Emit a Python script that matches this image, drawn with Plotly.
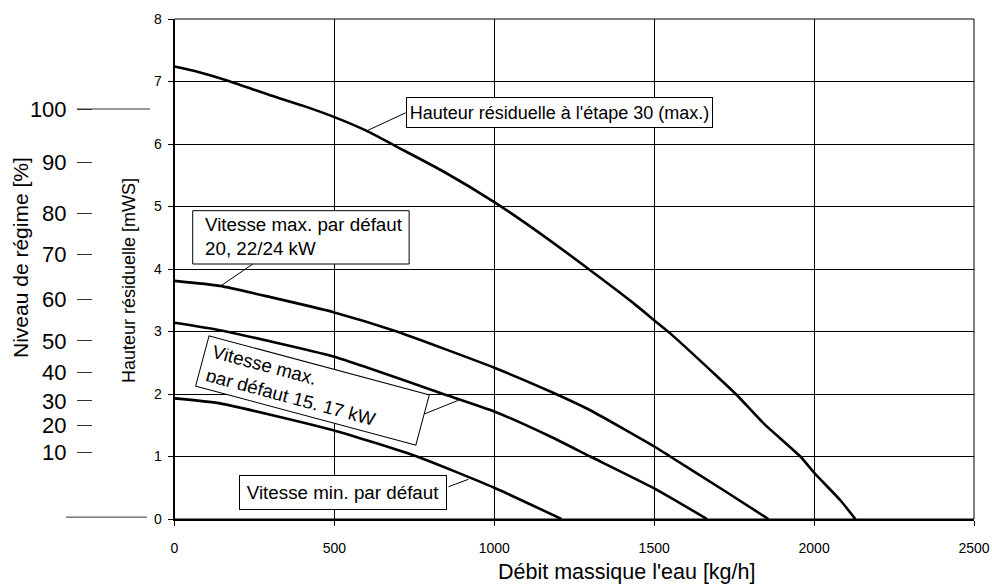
import plotly.graph_objects as go

# ---- data ----
flow_max30 = [0, 69, 174, 299, 403, 500, 601, 716, 841, 1000, 1143, 1300, 1436, 1500, 1550, 1697, 1759, 1842, 1957, 2002, 2082, 2129]
head_max30 = [7.24, 7.16, 7.0, 6.78, 6.61, 6.43, 6.21, 5.9, 5.56, 5.07, 4.57, 3.98, 3.45, 3.18, 2.97, 2.28, 1.98, 1.53, 1.0, 0.73, 0.30, 0.0]

flow_max22 = [0, 142, 300, 497, 695, 1000, 1175, 1300, 1500, 1550, 1717, 1857]
head_max22 = [3.81, 3.73, 3.55, 3.31, 3.0, 2.42, 2.04, 1.74, 1.16, 1.0, 0.46, 0.0]

flow_max15 = [0, 142, 497, 852, 1000, 1175, 1300, 1500, 1665]
head_max15 = [3.14, 3.02, 2.6, 1.98, 1.72, 1.32, 1.0, 0.49, 0.0]

flow_min = [0, 142, 497, 758, 1000, 1210]
head_min = [1.93, 1.85, 1.42, 1.0, 0.5, 0.0]

x_ticks = [0, 500, 1000, 1500, 2000, 2500]
y_ticks = [0, 1, 2, 3, 4, 5, 6, 7, 8]

regime_labels = ["100", "90", "80", "70", "60", "50", "40", "30", "20", "10"]
regime_heights = [6.56, 5.71, 4.89, 4.23, 3.52, 2.85, 2.34, 1.89, 1.50, 1.07]

FONT = "Arial, Liberation Sans, sans-serif"
W, H = 992, 585
ML, MR, MT, MB = 0, 18, 19, 66
PW = W - ML - MR
PH = H - MT - MB
X0PX = 174.5
Y0PX = H - MB  # pixel row of the x axis


def py(px_row):
    """pixel row -> paper y"""
    return (Y0PX - px_row) / PH


fig = go.Figure()
for fx, hy, nm in [(flow_max30, head_max30, "max30"), (flow_max22, head_max22, "max22"),
                   (flow_max15, head_max15, "max15"), (flow_min, head_min, "min")]:
    fig.add_trace(go.Scatter(x=fx, y=hy, mode="lines", name=nm, showlegend=False,
                             line=dict(color="black", width=2.6, shape="spline", smoothing=0.5),
                             hoverinfo="skip"))
# carrier for the secondary (regime) axis
fig.add_trace(go.Scatter(x=[None], y=[None], yaxis="y2", showlegend=False, hoverinfo="skip"))

axis_common = dict(showgrid=True, gridcolor="black", gridwidth=1, showline=True, linecolor="black",
                   linewidth=2, ticks="outside", ticklen=5, tickcolor="black", tickwidth=1,
                   zeroline=False, automargin=False, tickfont=dict(family=FONT, size=14, color="black"))

fig.update_layout(
    width=W, height=H, margin=dict(l=ML, r=MR, t=MT, b=MB),
    paper_bgcolor="white", plot_bgcolor="white",
    font=dict(family=FONT, color="black"),
    xaxis=dict(domain=[X0PX / PW, 1], range=[0, 2500], tickvals=x_ticks, ticklabelstandoff=10, **axis_common),
    yaxis=dict(range=[0, 8], tickvals=y_ticks, ticklabelstandoff=3, **axis_common),
    yaxis2=dict(overlaying="y", anchor="free", position=92 / PW, side="left", range=[0, 8],
                tickvals=regime_heights, ticktext=regime_labels, ticks="outside", ticklen=15,
                tickcolor="#333", tickwidth=1, showgrid=False, showline=False, zeroline=False,
                automargin=False, ticklabelstandoff=6,
                tickfont=dict(family=FONT, size=22, color="black")),
)

shapes = [
    dict(type="rect", xref="x domain", yref="y domain", x0=0, x1=1, y0=0, y1=1,
         line=dict(color="black", width=1)),
    dict(type="line", xref="paper", yref="y", x0=77 / PW, x1=150 / PW, y0=regime_heights[0], y1=regime_heights[0],
         line=dict(color="#333", width=1)),
    dict(type="line", xref="paper", yref="y", x0=66 / PW, x1=147 / PW, y0=0.03, y1=0.03,
         line=dict(color="#333", width=1)),
    # box of the "20, 22/24 kW" label
    dict(type="rect", xref="x", yref="y", x0=57, x1=733.7, y0=4.08, y1=4.933, layer="above",
         fillcolor="white", line=dict(color="black", width=1)),
    # leader lines
    dict(type="line", xref="x", yref="y", x0=723, y0=6.50, x1=601, y1=6.21, line=dict(color="black", width=1)),
    dict(type="line", xref="x", yref="y", x0=245, y0=4.08, x1=142, y1=3.72, line=dict(color="black", width=1)),
    dict(type="line", xref="x", yref="y", x0=781, y0=1.68, x1=888, y1=1.90, line=dict(color="black", width=1)),
    dict(type="line", xref="x", yref="y", x0=857, y0=0.517, x1=919, y1=0.635, line=dict(color="black", width=1)),
]
fig.update_layout(shapes=shapes)

box = dict(bordercolor="black", borderwidth=1, bgcolor="white", showarrow=False, xref="x", yref="y",
           xanchor="center", yanchor="middle")
annotations = [
    dict(text="Hauteur résiduelle à l'étape 30 (max.)", x=1204, y=6.51, borderpad=2, width=301, height=25,
         align="center", font=dict(family=FONT, size=18, color="black"), **box),
    dict(text="Vitesse max. par défaut<br>20, 22/24 kW", x=90, y=4.52, xref="x", yref="y",
         xanchor="left", yanchor="middle", align="left", showarrow=False,
         font=dict(family=FONT, size=18.8, color="black")),
    dict(text="Vitesse max.<br>par défaut 15, 17 kW", x=432, y=2.06, borderpad=7, width=213, height=37,
         align="left", textangle=15, font=dict(family=FONT, size=18.8, color="black"), **box),
    dict(text="Vitesse min. par défaut", x=525.7, y=0.424, borderpad=4, width=198, height=25,
         align="center", font=dict(family=FONT, size=18.8, color="black"), **box),
    # axis titles
    dict(text="Niveau de régime [%]", xref="paper", yref="paper", x=20 / PW, y=py(258),
         textangle=-90, showarrow=False, font=dict(family=FONT, size=21, color="black"),
         xanchor="center", yanchor="middle"),
    dict(text="Hauteur résiduelle [mWS]", xref="paper", yref="paper", x=129 / PW, y=py(281),
         textangle=-90, showarrow=False, font=dict(family=FONT, size=18, color="black"),
         xanchor="center", yanchor="middle"),
    dict(text="Débit massique l'eau [kg/h]", xref="paper", yref="paper", x=626 / PW, y=py(572),
         showarrow=False, font=dict(family=FONT, size=21.5, color="black"),
         xanchor="center", yanchor="middle"),
]
fig.update_layout(annotations=annotations)

fig.write_html("out.html", config={"displayModeBar": False},
               post_script="document.body.style.margin='0';document.body.style.overflow='hidden';")
